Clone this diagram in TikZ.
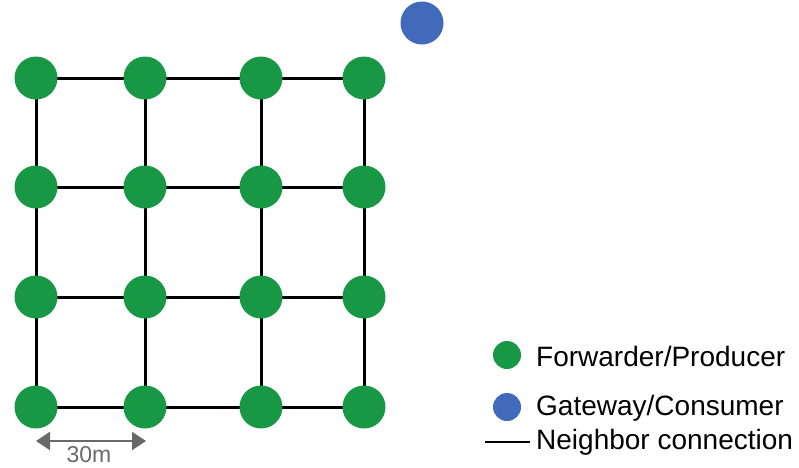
\documentclass[tikz,border=0pt]{standalone}
\usepackage{fontspec}
\setmainfont{Liberation Sans}
\usetikzlibrary{arrows.meta}
\definecolor{fgreen}{RGB}{24,152,68}
\definecolor{gblue}{RGB}{66,106,186}
\definecolor{dimgray}{RGB}{105,105,105}
\tikzset{
  fwd/.style={circle,fill=fgreen,minimum size=43pt,inner sep=0pt},
  gw/.style={circle,fill=gblue,minimum size=43pt,inner sep=0pt},
  lfwd/.style={circle,fill=fgreen,minimum size=28pt,inner sep=0pt},
  lgw/.style={circle,fill=gblue,minimum size=28pt,inner sep=0pt},
  link/.style={line width=3pt,black},
  lbl/.style={anchor=west,inner sep=0pt,font=\fontsize{28}{31}\selectfont},
  dist/.style={draw=dimgray,line width=2.4pt,{Triangle[length=14pt,width=18pt]}-{Triangle[length=14pt,width=18pt]}}
}
\begin{document}
\begin{tikzpicture}[x=1pt,y=-1pt]
\useasboundingbox (0,0) rectangle (799,467);
\foreach \i/\x in {1/36,2/145,3/261,4/364}{
  \foreach \j/\y in {1/78,2/187,3/297,4/407}{
    \coordinate (p\i\j) at (\x,\y);
  }
}
% links
\foreach \i in {1,...,4}{
  \draw[link] (p\i1) -- (p\i4);
  \draw[link] (p1\i) -- (p4\i);
}
\foreach \i in {1,...,4}{
  \foreach \j in {1,...,4}{
    \node[fwd] (n\i\j) at (p\i\j) {};
  }
}
\node[gw] (gw) at (422,23) {};
% distance
\coordinate (d1) at (36,441);
\coordinate (d2) at (146,441);
\draw[dist] (d1) -- (d2);
\node[inner sep=0pt,text=dimgray,font=\fontsize{23}{26}\selectfont] (dl) at (89,455) {30m};
% legend
\node[lfwd] (l1) at (507,355) {};
\node[lbl] (t1) at (536,356) {Forwarder/Producer};
\node[lgw] (l2) at (507,407) {};
\node[lbl] (t2) at (536,408) {Gateway/Consumer};
\coordinate (la) at (485,442);
\coordinate (lb) at (530,442);
\draw[line width=2.8pt] (la) -- (lb);
\node[lbl] (t3) at (536,442) {Neighbor connection};
\end{tikzpicture}
\end{document}
